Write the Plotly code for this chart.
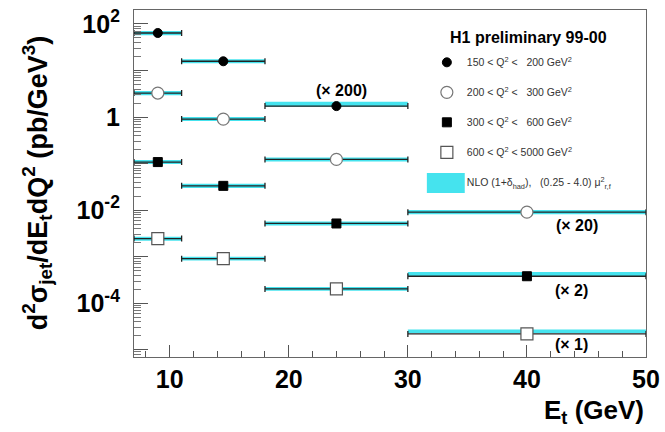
import plotly.graph_objects as go

FONT = "Liberation Sans, Arial, sans-serif"

# ---- data ----
et_center = [9, 14.5, 24, 40]
et_lo = [7, 11, 18, 30]
et_hi = [11, 18, 30, 50]

series_names = [
    "150 &lt; Q<sup>2</sup> &lt;&nbsp;&nbsp; 200 GeV<sup>2</sup>",
    "200 &lt; Q<sup>2</sup> &lt;&nbsp;&nbsp; 300 GeV<sup>2</sup>",
    "300 &lt; Q<sup>2</sup> &lt;&nbsp;&nbsp; 600 GeV<sup>2</sup>",
    "600 &lt; Q<sup>2</sup> &lt; 5000 GeV<sup>2</sup>",
]
nlo_name = "NLO (1+δ<sub>had</sub>),&nbsp;&nbsp; (0.25 - 4.0) μ<sup>2</sup><sub>r,f</sub>"
scale_labels = ["(× 200)", "(× 20)", "(× 2)", "(× 1)"]

s1 = [64.0, 15.8, 1.72]
s2 = [3.28, 0.906, 0.123, 0.00906]
s3 = [0.108, 0.0333, 0.00518, 3.81e-4]
s4 = [2.46e-3, 9.1e-4, 2.03e-4, 2.2e-5]

n1_lo = [57, 14.3, 1.67]
n1_hi = [71, 17.5, 2.13]
n2_lo = [2.95, 0.82, 0.111, 0.0082]
n2_hi = [3.65, 1.0, 0.136, 0.0101]
n3_lo = [0.098, 0.030, 0.0047, 3.75e-4]
n3_hi = [0.119, 0.037, 0.0057, 4.7e-4]
n4_lo = [2.2e-3, 8.3e-4, 1.85e-4, 2.3e-5]
n4_hi = [2.7e-3, 1.0e-3, 2.25e-4, 2.75e-5]

y_major = [1e-5, 1e-4, 1e-3, 1e-2, 1e-1, 1, 10, 100]
y_text = ["", "10<sup>-4</sup>", "", "10<sup>-2</sup>", "", "1", "", "10<sup>2</sup>"]
x_ticks = [10, 20, 30, 40, 50]

values = [s1, s2, s3, s4]
nlo_lo = [n1_lo, n2_lo, n3_lo, n4_lo]
nlo_hi = [n1_hi, n2_hi, n3_hi, n4_hi]

CYAN = "#45e3ee"

fig = go.Figure()

# NLO bands
bx, by = [], []
for lo_s, hi_s in zip(nlo_lo, nlo_hi):
    for i in range(len(lo_s)):
        bx += [et_lo[i], et_hi[i], et_hi[i], et_lo[i], et_lo[i], None]
        by += [lo_s[i], lo_s[i], hi_s[i], hi_s[i], lo_s[i], None]
fig.add_trace(go.Scatter(
    x=bx, y=by, mode="lines", fill="toself", fillcolor=CYAN,
    line=dict(width=0, color=CYAN), showlegend=False, hoverinfo="skip",
))

styles = [
    dict(symbol="circle", size=9, color="black", line=dict(color="black", width=1)),
    dict(symbol="circle", size=12, color="white", line=dict(color="#777777", width=1.2)),
    dict(symbol="square", size=9, color="black", line=dict(color="black", width=1)),
    dict(symbol="square", size=12, color="white", line=dict(color="#555555", width=1.2)),
]

for k, (vals, nm, st) in enumerate(zip(values, series_names, styles)):
    n = len(vals)
    xc = et_center[:n]
    ep = [et_hi[i] - et_center[i] for i in range(n)]
    em = [et_center[i] - et_lo[i] for i in range(n)]
    fig.add_trace(go.Scatter(
        x=xc, y=vals, mode="markers", name=nm, marker=st,
        error_x=dict(type="data", symmetric=False, array=ep, arrayminus=em,
                     color="#222222", thickness=1.3, width=3),
        legendrank=k + 1, legendgroup=f"g{k+1}",
    ))

# legend entry for NLO band (swatch drawn as a legend shape)
fig.add_trace(go.Scatter(
    x=[None], y=[None], mode="markers", name=nlo_name,
    marker=dict(size=1, color="rgba(0,0,0,0)"),
    legendrank=5, legendgroup="g5",
))
fig.add_shape(type="rect", xref="paper", yref="paper",
              x0=0.572, x1=0.646, y0=0.4726, y1=0.530,
              fillcolor=CYAN, line=dict(width=0), layer="above")

# legend header
fig.add_annotation(x=0.770, y=0.922, xref="paper", yref="paper",
                   text="H1 preliminary 99-00", showarrow=False,
                   xanchor="center", yanchor="middle",
                   font=dict(family=FONT, size=16, color="black", weight="bold"))

# scale labels
label_pos = [(0.406, 0.769), (0.865, 0.378), (0.854, 0.193), (0.854, 0.037)]
for txt, (px, py) in zip(scale_labels, label_pos):
    fig.add_annotation(x=px, y=py, xref="paper", yref="paper", text=txt,
                       showarrow=False, xanchor="center", yanchor="middle",
                       font=dict(family=FONT, size=16, color="black", weight="bold"))

# axis titles
fig.add_annotation(x=1.0, y=-0.105, xref="paper", yref="paper",
                   text="E<sub>t</sub> (GeV)", showarrow=False,
                   xanchor="right", yanchor="top",
                   font=dict(family=FONT, size=26, color="black", weight="bold"))
fig.add_annotation(x=-0.19, y=0.50, xref="paper", yref="paper",
                   text="d<sup>2</sup>σ<sub>jet</sub>/dE<sub>t</sub>dQ<sup>2</sup> (pb/GeV<sup>3</sup>)",
                   showarrow=False, textangle=-90,
                   xanchor="center", yanchor="middle",
                   font=dict(family=FONT, size=27, color="black", weight="bold"))

fig.update_layout(
    width=665, height=432,
    margin=dict(l=134, r=19, t=10, b=75),
    paper_bgcolor="white", plot_bgcolor="white",
    font=dict(family=FONT, color="black"),
    showlegend=True,
    legend=dict(
        x=0.572, y=0.891, xanchor="left", yanchor="top",
        bgcolor="rgba(0,0,0,0)", borderwidth=0,
        font=dict(family=FONT, size=10.5, color="#333333"),
        tracegroupgap=11, itemsizing="trace",
    ),
    xaxis=dict(
        range=[7, 50], tickvals=x_ticks, ticks="inside", ticklen=12,
        tickcolor="#555555", showline=True, linecolor="#666666", linewidth=1.2,
        mirror=True, showgrid=False, zeroline=False, automargin=False,
        tickfont=dict(family=FONT, size=25, color="black", weight="bold"),
        minor=dict(dtick=2, ticks="inside", ticklen=6, tickcolor="#555555", showgrid=False),
    ),
    yaxis=dict(
        type="log", range=[-5.154, 2.30], tickmode="array",
        tickvals=y_major, ticktext=y_text, ticks="inside", ticklen=14,
        tickcolor="#555555", showline=True, linecolor="#666666", linewidth=1.2,
        mirror=True, showgrid=False, zeroline=False, automargin=False,
        ticklabelstandoff=8,
        tickfont=dict(family=FONT, size=25, color="black", weight="bold"),
        minor=dict(dtick="D1", ticks="inside", ticklen=7, tickcolor="#777777", showgrid=False),
    ),
)

fig.write_html("out.html", config={"displayModeBar": False},
               post_script="document.body.style.margin='0px';")
